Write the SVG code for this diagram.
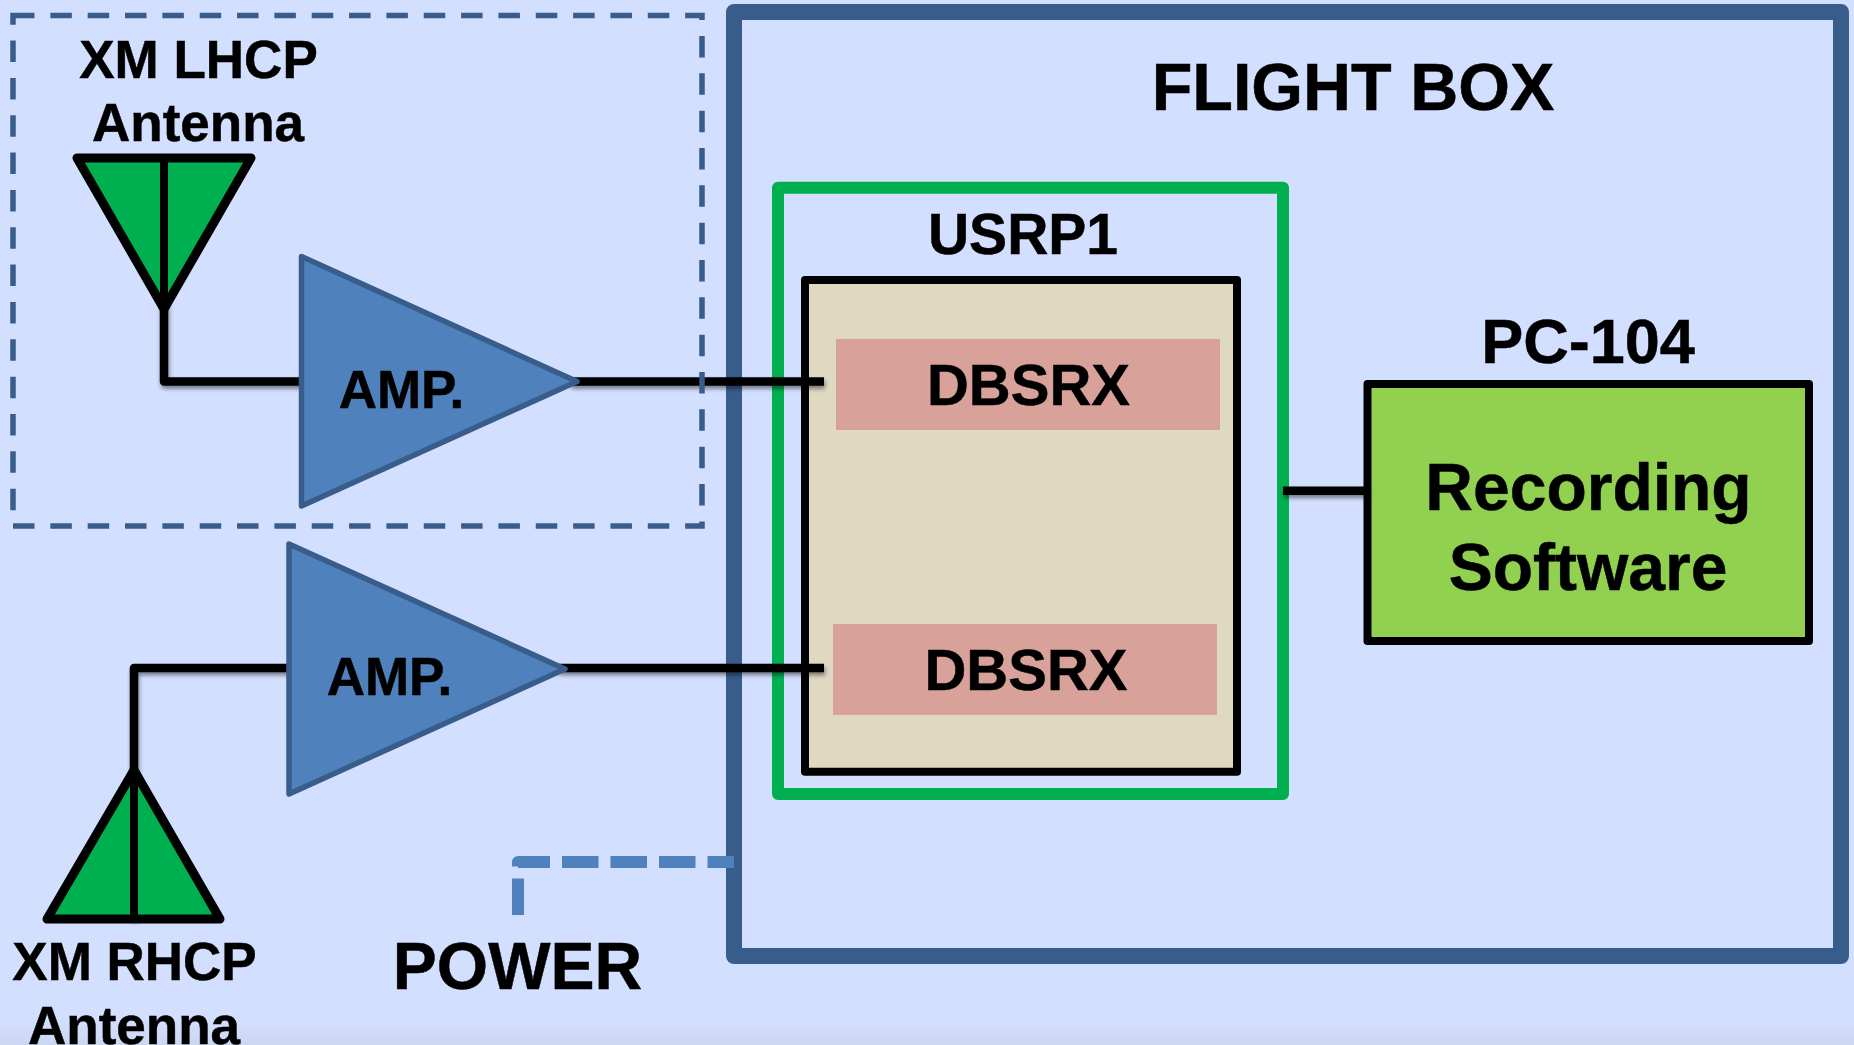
<svg xmlns="http://www.w3.org/2000/svg" width="1854" height="1045" viewBox="0 0 1854 1045">
<style>
text{font-family:"Liberation Sans",Arial,sans-serif;font-weight:700;fill:#000;stroke:#000;stroke-width:0.5;text-anchor:middle}
.s53{font-size:53px}.s58{font-size:58px}.s66{font-size:66px}
.wire{fill:none;stroke:#000;stroke-width:8.5;stroke-linejoin:round}
.amp{fill:#4F81BD;stroke:#385D8A;stroke-width:5.5;stroke-linejoin:round}
.ant{fill:#00B050;stroke:#000;stroke-width:9;stroke-linejoin:round}
.box{stroke-linejoin:round}
</style>
<defs>
<linearGradient id="bg" x1="0" y1="0" x2="0" y2="1"><stop offset="0" stop-color="#D3DFFF"/><stop offset="0.975" stop-color="#D3DFFF"/><stop offset="1" stop-color="#CBD7F1"/></linearGradient>
<filter id="sh" filterUnits="userSpaceOnUse" x="0" y="0" width="1854" height="1045"><feDropShadow dx="1" dy="3" stdDeviation="2" flood-color="#000" flood-opacity="0.45"/></filter>
</defs>
<rect id="background" width="1854" height="1045" fill="url(#bg)"/>
<g id="flight-box">
<rect class="box" x="734" y="12" width="1107" height="944" fill="none" stroke="#385D8A" stroke-width="16"/>
<text x="1353" y="110" style="font-size:66.5px">FLIGHT BOX</text>
</g>
<g id="usrp1">
<rect class="box" x="778" y="187.7" width="505" height="606.3" fill="none" stroke="#00B050" stroke-width="12"/>
<rect class="box" x="805" y="280" width="432" height="491.7" fill="#DFD9C2" stroke="#000" stroke-width="8"/>
<text x="1023" y="254" style="font-size:57px">USRP1</text>
</g>
<g id="dbsrx-1">
<rect x="836" y="339" width="384" height="91" fill="#D8A29B"/>
<text class="s58" x="1028.5" y="405">DBSRX</text>
</g>
<g id="dbsrx-2">
<rect x="833" y="624" width="384" height="91" fill="#D8A29B"/>
<text class="s58" x="1026" y="690">DBSRX</text>
</g>
<g id="pc-104">
<rect class="box" x="1367.5" y="384" width="441.5" height="257" fill="#92D050" stroke="#000" stroke-width="8"/>
<text x="1588" y="363.4" style="font-size:63px">PC-104</text>
<text class="s66" x="1588.5" y="509.5">Recording</text>
<text class="s66" x="1588" y="590">Software</text>
</g>
<g id="connectors">
<path class="wire" filter="url(#sh)" d="M164 158V381.5H302"/>
<path class="wire" filter="url(#sh)" d="M570 381.5H824"/>
<path class="wire" filter="url(#sh)" d="M134 919V668H290"/>
<path class="wire" filter="url(#sh)" d="M558 668H824"/>
<path class="wire" filter="url(#sh)" d="M1283 490.7H1368"/>
<path fill="none" stroke="#4F81BD" stroke-width="12" stroke-linejoin="round" stroke-dasharray="36.5 12" d="M518 915V862H734"/>
</g>
<g id="amp-1">
<polygon class="amp" points="301.5,256.5 577,381.5 301.5,506"/>
<text class="s53" x="401.5" y="407.5">AMP.</text>
</g>
<g id="amp-2">
<polygon class="amp" points="289,544 565,669 289,794"/>
<text class="s53" x="389.5" y="695">AMP.</text>
</g>
<g id="lhcp-antenna">
<polygon class="ant" points="77,158 251,158 164,309"/>
<line x1="164" y1="158" x2="164" y2="309" stroke="#000" stroke-width="8"/>
<text class="s53" x="198.5" y="77.5">XM LHCP</text>
<text class="s53" x="198" y="140.5">Antenna</text>
</g>
<g id="rhcp-antenna">
<polygon class="ant" points="47,919 220,919 134,770"/>
<line x1="134" y1="770" x2="134" y2="919" stroke="#000" stroke-width="8"/>
<text class="s53" x="134.5" y="980">XM RHCP</text>
<text class="s53" x="134" y="1043.5">Antenna</text>
</g>
<g id="lhcp-enclosure">
<rect x="13" y="15.5" width="689" height="510.5" fill="none" stroke="#385D8A" stroke-width="5.5" stroke-dasharray="21.5 15.84"/>
</g>
<g id="power">
<text class="s66" x="517.5" y="989">POWER</text>
</g>
</svg>
